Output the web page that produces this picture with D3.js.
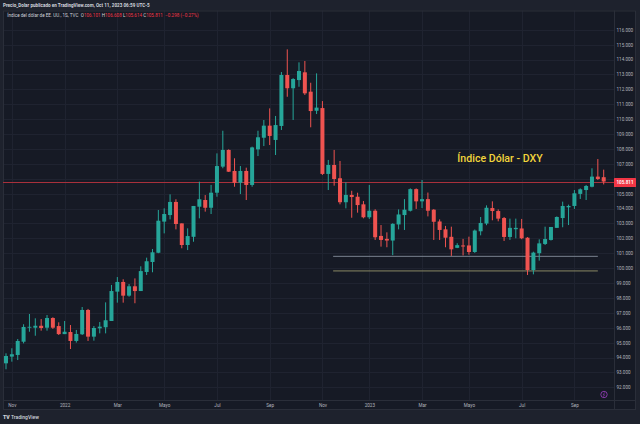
<!DOCTYPE html>
<html><head><meta charset="utf-8">
<script src="https://cdn.jsdelivr.net/npm/d3@7"></script>
<style>
html,body{margin:0;padding:0;background:#1e222d;}
svg{display:block;font-family:Roboto,"Noto Sans",sans-serif;}
</style></head>
<body><svg id="c" width="640" height="424"></svg>
<script>
const dates = ["2021-10-25","2021-11-01","2021-11-08","2021-11-15","2021-11-22","2021-11-29","2021-12-06","2021-12-13","2021-12-20","2021-12-27",
"2022-01-03","2022-01-10","2022-01-17","2022-01-24","2022-01-31","2022-02-07","2022-02-14","2022-02-21","2022-02-28","2022-03-07","2022-03-14","2022-03-21","2022-03-28","2022-04-04","2022-04-11","2022-04-18","2022-04-25","2022-05-02","2022-05-09","2022-05-16","2022-05-23","2022-05-30","2022-06-06","2022-06-13","2022-06-20","2022-06-27","2022-07-04","2022-07-11","2022-07-18","2022-07-25","2022-08-01","2022-08-08","2022-08-15","2022-08-22","2022-08-29","2022-09-05","2022-09-12","2022-09-19","2022-09-26","2022-10-03","2022-10-10","2022-10-17","2022-10-24","2022-10-31","2022-11-07","2022-11-14","2022-11-21","2022-11-28","2022-12-05","2022-12-12","2022-12-19","2022-12-26",
"2023-01-02","2023-01-09","2023-01-16","2023-01-23","2023-01-30","2023-02-06","2023-02-13","2023-02-20","2023-02-27","2023-03-06","2023-03-13","2023-03-20","2023-03-27","2023-04-03","2023-04-10","2023-04-17","2023-04-24","2023-05-01","2023-05-08","2023-05-15","2023-05-22","2023-05-29","2023-06-05","2023-06-12","2023-06-19","2023-06-26","2023-07-03","2023-07-10","2023-07-17","2023-07-24","2023-07-31","2023-08-07","2023-08-14","2023-08-21","2023-08-28","2023-09-04","2023-09-11","2023-09-18","2023-09-25","2023-10-02","2023-10-09"];

const opens = [93.61,94.06,94.17,95.06,96.00,96.00,96.13,96.00,96.65,96.11,
95.57,95.71,95.11,95.56,97.19,95.40,95.96,96.03,96.45,98.42,99.07,98.15,98.78,98.46,99.74,100.41,101.03,103.12,103.56,104.44,103.00,101.55,102.10,104.12,104.57,104.05,105.06,106.81,107.93,106.52,105.73,106.52,105.58,107.97,108.75,109.56,108.60,109.54,112.96,112.07,112.62,113.14,111.84,110.56,110.74,106.32,106.92,106.03,104.42,104.91,104.79,104.28,
103.41,103.85,102.16,101.96,101.85,102.93,103.56,103.85,105.30,104.48,104.63,103.92,103.13,102.60,102.10,101.36,101.52,101.52,101.08,102.47,102.99,104.03,103.83,103.36,102.09,102.61,102.66,102.04,99.87,101.00,101.62,101.89,102.70,103.36,104.08,104.17,104.98,105.24,105.46,106.14,106.101];

const highs = [94.28,94.62,95.24,96.23,96.92,96.63,96.58,96.85,96.70,96.36,
96.45,96.18,95.85,97.39,97.26,96.11,96.38,97.70,98.87,99.40,99.25,98.93,99.31,100.12,100.70,101.28,103.90,104.01,104.95,104.62,103.00,102.67,104.17,105.80,104.90,105.58,107.70,109.22,107.97,107.37,106.85,106.74,108.15,109.22,109.94,110.72,110.21,113.16,114.68,112.75,113.81,113.90,112.44,113.07,111.21,107.26,107.93,107.19,105.76,105.19,105.06,104.50,
105.58,103.95,102.89,102.40,103.01,103.94,104.63,105.35,105.35,105.91,105.07,103.96,103.27,102.83,102.78,101.67,101.96,102.11,102.59,103.43,104.21,104.48,103.94,103.43,103.32,103.32,103.30,102.08,101.10,101.93,102.78,102.76,103.47,104.46,104.26,105.24,105.35,105.58,106.70,107.32,106.608];

const lows = [93.21,93.72,93.83,94.95,95.73,95.46,95.80,95.80,95.92,95.51,
95.57,94.57,95.00,95.51,95.11,95.13,95.62,95.62,96.45,97.68,97.68,98.08,97.64,98.46,99.54,99.72,101.00,102.33,103.27,102.60,101.33,101.21,101.77,103.34,103.79,103.63,104.79,106.70,106.45,105.46,104.97,104.57,105.46,107.52,108.19,108.26,107.59,109.27,111.50,109.94,112.17,111.62,109.45,110.34,106.25,105.24,105.53,104.28,104.01,103.38,103.72,103.34,
103.30,101.89,101.44,101.40,100.87,102.60,102.56,103.80,103.97,104.03,103.47,101.89,101.89,101.40,100.82,101.34,100.85,100.90,101.02,102.20,102.88,103.21,103.14,101.82,101.89,102.00,101.94,99.54,99.58,100.50,101.55,101.85,102.70,102.74,102.89,103.97,104.64,104.57,105.42,105.91,105.614];

const closes = [94.10,94.22,95.11,96.05,96.06,96.13,95.98,96.65,96.00,95.57,
95.73,95.11,95.58,97.19,95.40,95.98,96.07,96.50,98.46,99.07,98.15,98.78,98.46,99.80,100.46,101.06,103.18,103.63,104.44,102.96,101.55,102.15,104.17,104.62,104.05,105.06,106.85,107.93,106.47,105.73,106.52,105.58,108.10,108.78,109.56,108.87,109.60,112.96,112.07,112.69,113.23,111.73,110.54,110.77,106.32,106.92,105.98,104.42,104.91,104.77,104.23,103.41,
103.85,102.07,101.89,101.85,102.97,103.60,103.92,105.30,104.48,104.63,103.85,103.11,102.56,102.04,101.26,101.54,101.45,101.08,102.52,103.03,104.05,103.83,103.32,102.09,102.70,102.70,102.00,99.87,101.04,101.66,101.95,102.76,103.43,104.17,104.17,105.02,105.29,105.51,106.14,105.98,105.811];

const priceTicks = [92,93,94,95,96,97,98,99,100,101,102,103,104,105,106,107,108,109,110,111,112,113,114,115,116];
const timeTickDates = ["2021-11-01","2022-01-03","2022-03-07","2022-05-02","2022-07-04","2022-09-05","2022-11-07","2023-01-02","2023-03-06","2023-05-01","2023-07-03","2023-09-04"];
const timeTickLabels = ["Nov","2022","Mar","Mayo","Jul","Sep","Nov","2023","Mar","Mayo","Jul","Sep"];
const supportLevels = [100.79, 99.81];
const supportStart = "2022-11-21";
const supportEnd = "2023-10-02";
const lastPrice = 105.811;
const titleText = "Índice Dólar - DXY";
const headerText = "Precio_Dolar publicado en TradingView.com, Oct 11, 2023 06:59 UTC-5";
const legendName = "Índice del dólar de EE. UU., 1S, TVC";
const legendParts = [["O","106.101"],["H","106.608"],["L","105.614"],["C","105.811"]];
const legendChange = "−0.298 (−0.27%)";

const svg = d3.select("#c");
const UP = "#26a69a", DOWN = "#ef5350";
const L = 3, R = 614, T = 10.5, B = 400, AXR = 636, BOT = 410;

svg.append("rect").attr("x",L).attr("y",T).attr("width",AXR-L).attr("height",BOT-T).attr("fill","#161a25");

const x = d3.scalePoint().domain(dates).range([6, 603.7]);
const y = d3.scaleLinear().domain([92,116]).range([387.3, 29.7]);

// grid
const g = svg.append("g");
g.selectAll(".hg").data(priceTicks).join("line")
  .attr("x1",L).attr("x2",R).attr("y1",d=>Math.round(y(d))+0.5).attr("y2",d=>Math.round(y(d))+0.5)
  .attr("stroke","#1f2330").attr("stroke-width",1);
g.selectAll(".vg").data(timeTickDates).join("line")
  .attr("x1",d=>Math.round(x(d))+0.5).attr("x2",d=>Math.round(x(d))+0.5).attr("y1",T).attr("y2",B)
  .attr("stroke","#1f2330").attr("stroke-width",1);

// borders
svg.append("line").attr("x1",R+0.5).attr("x2",R+0.5).attr("y1",T).attr("y2",BOT).attr("stroke","#2a2e39");
svg.append("line").attr("x1",L).attr("x2",AXR).attr("y1",B+0.5).attr("y2",B+0.5).attr("stroke","#2a2e39");
svg.append("rect").attr("x",L+0.5).attr("y",T+0.5).attr("width",AXR-L-1).attr("height",BOT-T-1).attr("fill","none").attr("stroke","#2a2e39");

// support lines
svg.selectAll(".sup").data(supportLevels).join("line")
  .attr("x1",x(supportStart)-1).attr("x2",x(supportEnd))
  .attr("y1",d=>y(d)).attr("y2",d=>y(d))
  .attr("stroke",(d,i)=>i===0?"#7a8290":"#8a8863").attr("stroke-width",1);

// last price line (behind candles)
const lpY = Math.round(y(lastPrice)) + 0.5;
svg.append("line").attr("x1",L).attr("x2",R).attr("y1",lpY).attr("y2",lpY)
  .attr("stroke","#a8303b").attr("stroke-width",1);

// candles
const data = dates.map((d,i)=>({d,o:opens[i],h:highs[i],l:lows[i],c:closes[i]}));
const cg = svg.append("g");
const bw = 4;
cg.selectAll(".wick").data(data).join("line")
  .attr("x1",d=>x(d.d)).attr("x2",d=>x(d.d))
  .attr("y1",d=>y(d.h)).attr("y2",d=>y(d.l))
  .attr("stroke",d=>d.c>=d.o?UP:DOWN).attr("stroke-width",1);
cg.selectAll(".body").data(data).join("rect")
  .attr("x",d=>x(d.d)-bw/2).attr("width",bw)
  .attr("y",d=>y(Math.max(d.o,d.c)))
  .attr("height",d=>Math.max(0.8, Math.abs(y(d.o)-y(d.c))))
  .attr("fill",d=>d.c>=d.o?UP:DOWN);

// price axis (labels hidden under the last-price tag are skipped, as in the reference)
const visibleTicks = priceTicks.filter(v=>Math.abs(y(v)-y(lastPrice))>6);
const ya = d3.axisRight(y).tickValues(visibleTicks).tickFormat(d3.format(".3f")).tickSize(0).tickPadding(0);
const yg = svg.append("g").attr("transform",`translate(${R+2.5},0)`).call(ya);
yg.select(".domain").remove();
yg.selectAll("text").attr("fill","#b2b5be").attr("font-size","4.6px").attr("font-family","Roboto,sans-serif");

// price tag
svg.append("rect").attr("x",R).attr("y",lpY-4.5).attr("width",AXR-R).attr("height",9).attr("fill","#f23645").attr("rx",0.5);
svg.append("text").attr("x",R+2.5).attr("y",lpY+1.6).attr("fill","#ffffff").attr("font-size","4.6px").attr("font-weight",600).text(lastPrice.toFixed(3));

// time axis
const xa = d3.axisBottom(x).tickValues(timeTickDates).tickFormat((d,i)=>timeTickLabels[i]).tickSize(0).tickPadding(3.5);
const xg = svg.append("g").attr("transform",`translate(0,${B})`).call(xa);
xg.select(".domain").remove();
xg.selectAll("text").attr("fill","#b2b5be").attr("font-size","4.6px").attr("font-family","Roboto,sans-serif");

// purple icon
svg.append("circle").attr("cx",604).attr("cy",394.5).attr("r",3.2).attr("fill","none").attr("stroke","#9c3fc0").attr("stroke-width",0.8);
svg.append("path").attr("d","M604.8,392.3 L603.2,394.8 L604.6,394.8 L603.4,396.8").attr("fill","none").attr("stroke","#9c3fc0").attr("stroke-width",0.6);

// title
svg.append("text").attr("x",500).attr("y",161.5).attr("text-anchor","middle")
  .attr("fill","#f2d53c").attr("font-size","10.6px").attr("font-weight",500).text(titleText);

// header
svg.append("text").attr("x",3).attr("y",7.4).attr("fill","#d1d4dc").attr("font-size","4.6px").attr("font-weight",700).text(headerText);

const lg = svg.append("text").attr("x",7.3).attr("y",16.8).attr("font-size","4.6px").attr("fill","#d1d4dc").style("white-space","pre");
lg.append("tspan").text(legendName + "  ");
legendParts.forEach(p=>{
  lg.append("tspan").attr("fill","#d1d4dc").text(p[0]);
  lg.append("tspan").attr("fill","#f23645").text(p[1] + " ");
});
lg.append("tspan").attr("fill","#f23645").text(" " + legendChange);

// footer logo
const fg = svg.append("g");
fg.append("text").attr("x",3).attr("y",418.5).attr("fill","#d1d4dc").attr("font-size","5.2px").attr("font-weight",900).text("TV");
fg.append("text").attr("x",11).attr("y",418.5).attr("fill","#d1d4dc").attr("font-size","5px").attr("font-weight",500).text("TradingView");
</script></body></html>
